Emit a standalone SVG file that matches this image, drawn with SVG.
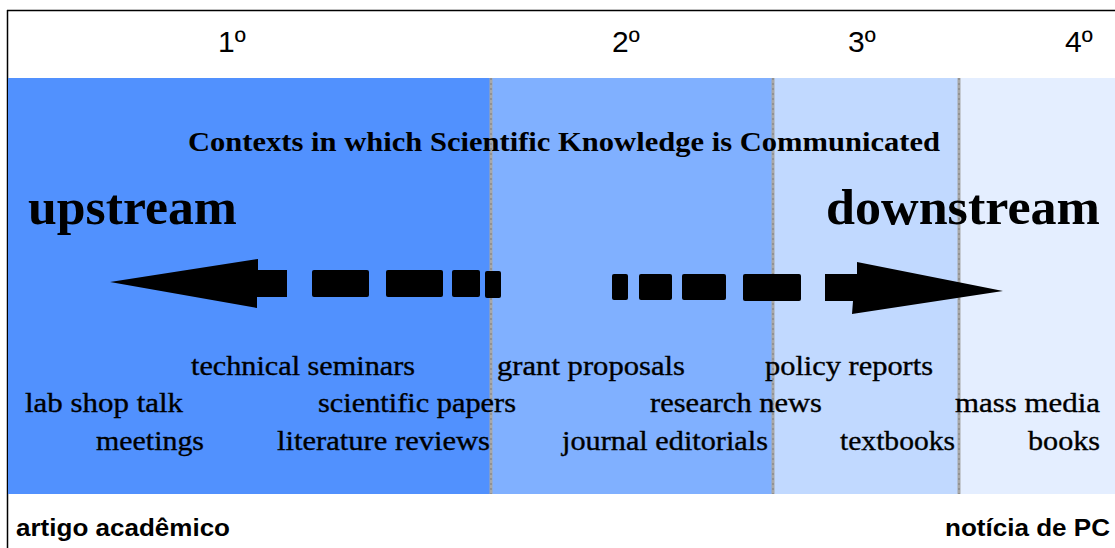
<svg xmlns="http://www.w3.org/2000/svg" width="1115" height="548" viewBox="0 0 1115 548">
  <style>
    .hdr { font-family: "Liberation Sans", Arial, sans-serif; font-size: 30px; fill: #000; }
    .foot { font-family: "Liberation Sans", Arial, sans-serif; font-size: 23px; font-weight: bold; fill: #000; }
    .title { font-family: "Liberation Serif", "Times New Roman", serif; font-size: 28px; font-weight: bold; fill: #000; }
    .dir { font-family: "Liberation Serif", "Times New Roman", serif; font-size: 50px; font-weight: bold; fill: #000; }
    .lbl { font-family: "Liberation Serif", "Times New Roman", serif; font-size: 27px; fill: #000; stroke: #000; stroke-width: 0.35; }
    .div { stroke: #a8a8a8; stroke-width: 3; }
    .divtex { stroke: #7c7c7c; stroke-width: 1; stroke-dasharray: 2 3; }
    .shape { fill: #000; }
  </style>

  <rect width="1115" height="548" fill="#fff"/>

  <!-- frame -->
  <g id="frame">
    <line x1="7" y1="10.5" x2="1115" y2="10.5" stroke="#000" stroke-width="1.5"/>
    <line x1="7.5" y1="10" x2="7.5" y2="548" stroke="#000" stroke-width="1.5"/>
  </g>

  <!-- bands -->
  <g id="bands">
    <rect x="8" y="78" width="483" height="416" fill="#5191fe"/>
    <rect x="491" y="78" width="282" height="416" fill="#80b0ff"/>
    <rect x="773" y="78" width="186" height="416" fill="#c1d9ff"/>
    <rect x="959" y="78" width="156" height="416" fill="#e4eeff"/>
    <line class="div" x1="491" y1="78" x2="491" y2="494"/>
    <line class="divtex" x1="491" y1="78" x2="491" y2="494"/>
    <line class="div" x1="773" y1="78" x2="773" y2="494"/>
    <line class="divtex" x1="773" y1="78" x2="773" y2="494"/>
    <line class="div" x1="959" y1="78" x2="959" y2="494"/>
    <line class="divtex" x1="959" y1="78" x2="959" y2="494"/>
  </g>

  <!-- column numbers -->
  <g id="columns">
    <text class="hdr" x="218" y="52">1º</text>
    <text class="hdr" x="612" y="52">2º</text>
    <text class="hdr" x="848" y="52">3º</text>
    <text class="hdr" x="1065" y="52">4º</text>
  </g>

  <g id="title">
    <text class="title" x="188" y="151" textLength="752" lengthAdjust="spacingAndGlyphs">Contexts in which Scientific Knowledge is Communicated</text>
  </g>

  <g id="upstream">
    <text class="dir" x="28" y="224" textLength="209" lengthAdjust="spacingAndGlyphs">upstream</text>
  </g>
  <g id="downstream">
    <text class="dir" x="826" y="224" textLength="274" lengthAdjust="spacingAndGlyphs">downstream</text>
  </g>

  <!-- dashed arrows -->
  <g id="connectors">
    <g id="arrow-left">
      <polygon class="shape" points="110,282 258,259 258,270 287,270 287,297 257,297 257,308"/>
      <rect class="shape" x="312" y="270" width="57" height="27" rx="2"/>
      <rect class="shape" x="386" y="270" width="57" height="27" rx="2"/>
      <rect class="shape" x="452" y="270" width="28" height="27" rx="2"/>
      <rect class="shape" x="485" y="271" width="16" height="27" rx="2"/>
    </g>
    <g id="arrow-right">
      <rect class="shape" x="612" y="274" width="16" height="26" rx="2"/>
      <rect class="shape" x="639" y="274" width="33" height="26" rx="2"/>
      <rect class="shape" x="682" y="274" width="44" height="26" rx="2"/>
      <rect class="shape" x="743" y="274" width="58" height="27" rx="2"/>
      <polygon class="shape" points="825,274 857,274 857,262 1003,291 852,314 853,301 825,301"/>
    </g>
  </g>

  <!-- communication contexts -->
  <g id="labels">
    <text class="lbl" x="191" y="375" textLength="224" lengthAdjust="spacingAndGlyphs">technical seminars</text>
    <text class="lbl" x="497" y="375" textLength="188" lengthAdjust="spacingAndGlyphs">grant proposals</text>
    <text class="lbl" x="765" y="375" textLength="168" lengthAdjust="spacingAndGlyphs">policy reports</text>
    <text class="lbl" x="25" y="412" textLength="158" lengthAdjust="spacingAndGlyphs">lab shop talk</text>
    <text class="lbl" x="318" y="412" textLength="198" lengthAdjust="spacingAndGlyphs">scientific papers</text>
    <text class="lbl" x="650" y="412" textLength="172" lengthAdjust="spacingAndGlyphs">research news</text>
    <text class="lbl" x="955" y="412" textLength="145" lengthAdjust="spacingAndGlyphs">mass media</text>
    <text class="lbl" x="96" y="450" textLength="108" lengthAdjust="spacingAndGlyphs">meetings</text>
    <text class="lbl" x="277" y="450" textLength="213" lengthAdjust="spacingAndGlyphs">literature reviews</text>
    <text class="lbl" x="562" y="450" textLength="206" lengthAdjust="spacingAndGlyphs">journal editorials</text>
    <text class="lbl" x="840" y="450" textLength="115" lengthAdjust="spacingAndGlyphs">textbooks</text>
    <text class="lbl" x="1028" y="450" textLength="72" lengthAdjust="spacingAndGlyphs">books</text>
  </g>

  <g id="footer">
    <text class="foot" x="16" y="536" textLength="214" lengthAdjust="spacingAndGlyphs">artigo acadêmico</text>
    <text class="foot" x="945" y="536" textLength="165" lengthAdjust="spacingAndGlyphs">notícia de PC</text>
  </g>
</svg>
